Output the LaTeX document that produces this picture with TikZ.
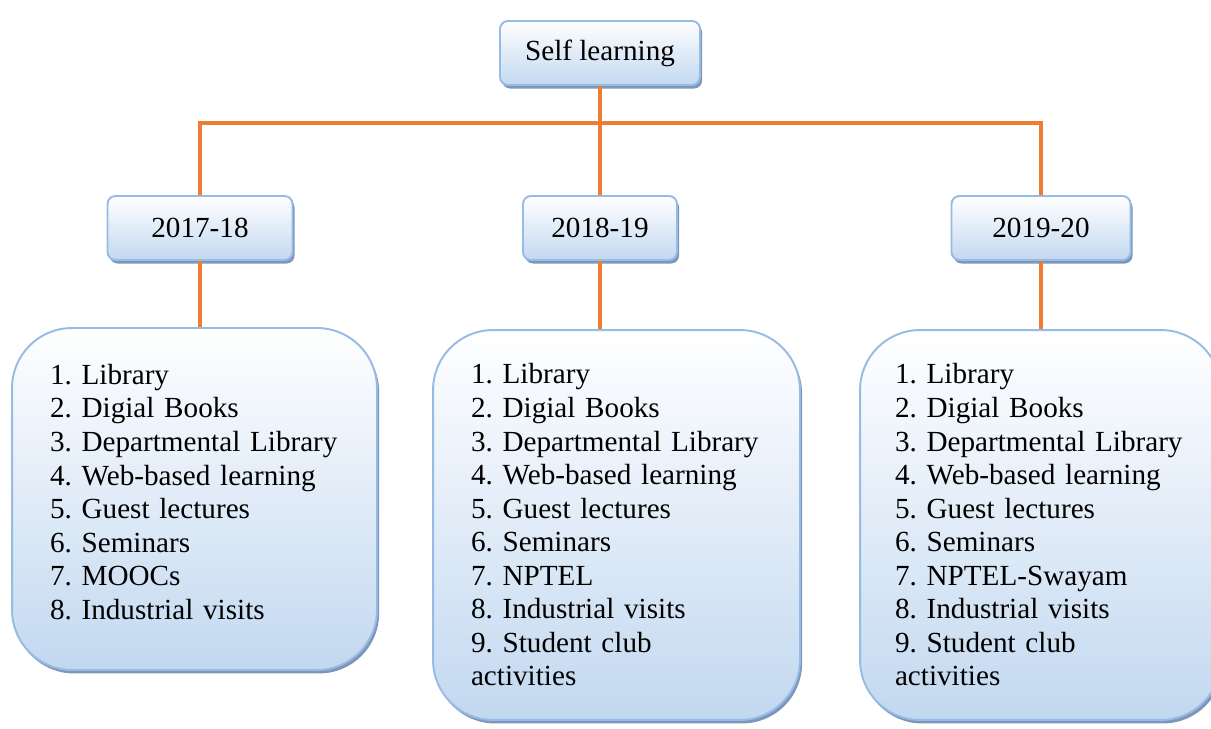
\documentclass[tikz,border=0pt]{standalone}
\usepackage{fontspec}
\setmainfont{Liberation Serif}
\frenchspacing
\hyphenpenalty=10000
\usetikzlibrary{shadows,positioning,calc}
\definecolor{boxline}{RGB}{150,187,228}
\definecolor{boxfill}{RGB}{194,216,240}
\definecolor{boxshadow}{RGB}{125,150,185}
\definecolor{linkorange}{RGB}{237,125,49}

\begin{document}
\begin{tikzpicture}[x=0.02cm, y=-0.02cm,
  boxbase/.style={draw=boxline, line width=1.1pt, top color=white, bottom color=boxfill,
    drop shadow={shadow xshift=1.2pt, shadow yshift=-2pt, fill=boxshadow, opacity=1},
    font=\fontsize{16.6}{19.1}\selectfont},
  titlebox/.style={boxbase, rounded corners=0.16cm, minimum height=1.28cm},
  listbox/.style={boxbase, rounded corners=1.2cm, inner xsep=0.76cm, align=left},
  link/.style={draw=linkorange, line width=1.9pt}]
  \useasboundingbox (0,0) rectangle (1211,729);

  \node[titlebox, minimum width=4cm] (top) at (600,53) {Self learning};

  \node[titlebox, minimum width=3.7cm] (y1) at (200,228) {2017-18};
  \node[titlebox, minimum width=3.08cm] (y2) at (600,228) {2018-19};
  \node[titlebox, minimum width=3.58cm] (y3) at (1041,228) {2019-20};

  \node[listbox, minimum width=7.3cm, minimum height=6.84cm, text width=5.78cm, text depth=142pt] (list1) at (194.5,499)
    {1. Library\\2. Digial Books\\3. Departmental Library\\4. Web-based learning\\5. Guest lectures\\6. Seminars\\7. MOOCs\\8. Industrial visits};
  \node[listbox, minimum width=7.34cm, minimum height=7.8cm, text width=5.82cm] (list2) at (616.5,525)
    {1. Library\\2. Digial Books\\3. Departmental Library\\4. Web-based learning\\5. Guest lectures\\6. Seminars\\7. NPTEL\\8. Industrial visits\\9. Student club\\activities};
  \node[listbox, minimum width=7.22cm, minimum height=7.8cm, text width=5.82cm, inner xsep=0.7cm] (list3) at (1040.5,525)
    {1. Library\\2. Digial Books\\3. Departmental Library\\4. Web-based learning\\5. Guest lectures\\6. Seminars\\7. NPTEL-Swayam\\8. Industrial visits\\9. Student club\\activities};

  % connectors
  \coordinate (hub) at (600,123);
  \draw[link] (top) -- (y2);
  \draw[link] (y1) |- (hub) -| (y3);
  \draw[link] (y1.south) -- (y1.south |- list1.north);
  \draw[link] (y2.south) -- (y2.south |- list2.north);
  \draw[link] (y3.south) -- (y3.south |- list3.north);
\end{tikzpicture}
\end{document}
